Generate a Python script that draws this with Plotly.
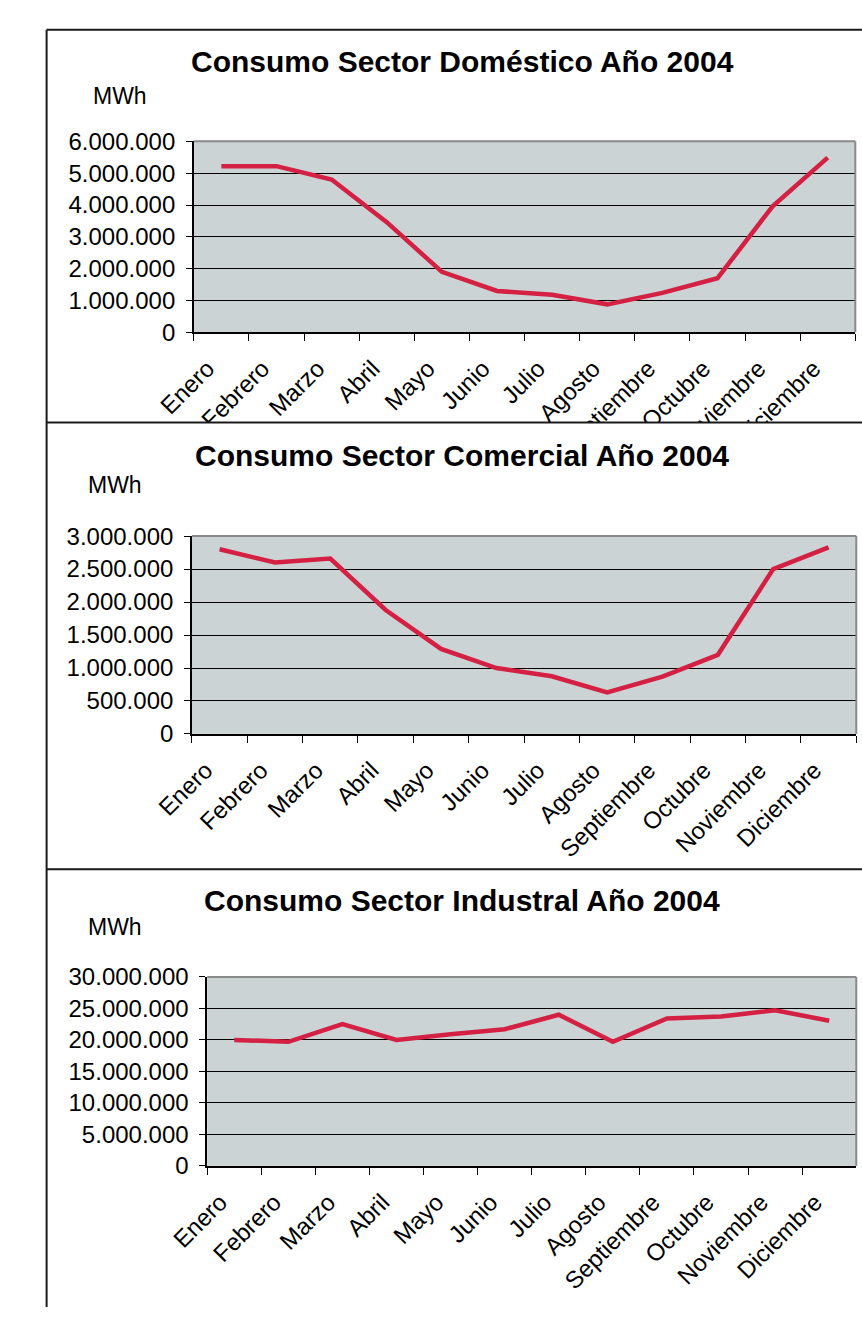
import plotly.graph_objects as go

# ---------------- data ----------------
meses = ["Enero", "Febrero", "Marzo", "Abril", "Mayo", "Junio", "Julio",
         "Agosto", "Septiembre", "Octubre", "Noviembre", "Diciembre"]
domestico = [5220000, 5220000, 4800000, 3460000, 1900000, 1300000,
             1180000, 880000, 1240000, 1700000, 3960000, 5490000]
comercial = [2800000, 2600000, 2660000, 1880000, 1290000, 1000000,
             875000, 630000, 870000, 1200000, 2500000, 2830000]
industrial = [20000000, 19700000, 22500000, 20000000, 20900000, 21700000,
              24000000, 19700000, 23400000, 23700000, 24700000, 23050000]
titulos = ["Consumo Sector Doméstico Año 2004",
           "Consumo Sector Comercial Año 2004",
           "Consumo Sector Industral Año 2004"]
unidad = "MWh"
y_max = [6000000, 3000000, 30000000]
y_paso = [1000000, 500000, 5000000]
series = [domestico, comercial, industrial]

# ---------------- layout geometry (pixels) ----------------
W, H = 862, 1320
FONT = "Arial, 'Liberation Sans', Helvetica, sans-serif"
LINE_COLOR = "#D42042"
BG = "#CBD3D5"

paneles = [
    dict(x0=163, x1=855, y0=130, y1=325, ty=48, mx=86, my=84),
    dict(x0=161, x1=856, y0=533, y1=735, ty=451, mx=81, my=481),
    dict(x0=177, x1=856, y0=983, y1=1176, ty=905, mx=81, my=932),
]


def px(x):
    return x / W


def py(y):
    return 1 - y / H


fig = go.Figure()
shapes = []
annotations = []

for i, (p, vals) in enumerate(zip(paneles, series)):
    n = "" if i == 0 else str(i + 1)
    xa, ya = "x" + n, "y" + n
    fig.add_trace(go.Scatter(
        x=meses, y=vals, mode="lines", xaxis=xa, yaxis=ya,
        line=dict(color=LINE_COLOR, width=4.5), showlegend=False,
        hoverinfo="skip"))
    fig.layout["xaxis" + n] = dict(
        domain=[px(p["x0"]), px(p["x1"])], anchor=ya,
        type="category", range=[-0.5, 11.5], tickson="boundaries",
        ticks="outside", ticklen=7, tickwidth=1, tickcolor="black",
        showline=True, linecolor="black", linewidth=1.5,
        showgrid=False, tickangle=-45, ticklabelstandoff=11,
        ticklabelshift=-14,
        tickfont=dict(family=FONT, size=24, color="black"), fixedrange=True)
    fig.layout["yaxis" + n] = dict(
        domain=[py(p["y1"]), py(p["y0"])], anchor=xa,
        range=[0, y_max[i]], dtick=y_paso[i], tick0=0, tickformat=",d",
        ticks="outside", ticklen=6, tickwidth=1, tickcolor="black",
        showline=True, linecolor="black", linewidth=1.5,
        showgrid=True, gridcolor="black", gridwidth=1, zeroline=False,
        ticklabelstandoff=6,
        tickfont=dict(family=FONT, size=24, color="black"), fixedrange=True)
    # grey plot-area border (top and right)
    shapes.append(dict(type="line", xref=xa + " domain", yref=ya + " domain",
                       x0=0, x1=1, y0=1, y1=1, layer="above",
                       line=dict(color="#8A8A8A", width=2)))
    shapes.append(dict(type="line", xref=xa + " domain", yref=ya + " domain",
                       x0=1, x1=1, y0=0, y1=1, layer="above",
                       line=dict(color="#8A8A8A", width=2)))
    annotations.append(dict(text="<b>" + titulos[i] + "</b>", xref="paper",
                            yref="paper", x=px(444), y=py(p["ty"]),
                            xanchor="center", yanchor="middle",
                            showarrow=False,
                            font=dict(family=FONT, size=30, color="black")))
    annotations.append(dict(text=unidad, xref="paper", yref="paper",
                            x=px(p["mx"]), y=py(p["my"]),
                            xanchor="center", yanchor="middle",
                            showarrow=False,
                            font=dict(family=FONT, size=23, color="black")))

# white cover clipping the first chart's labels at the separator
shapes.append(dict(type="rect", xref="paper", yref="paper",
                   x0=px(10), x1=1, y0=py(520), y1=py(417), layer="above",
                   fillcolor="white", line=dict(width=0)))
# outer frame and separators
frame = "#1A1A1A"
for (xa0, ya0, xa1, ya1) in [(9, 16, 862, 16), (9, 16, 9, 1320),
                             (9, 417, 862, 417), (9, 873, 862, 873)]:
    shapes.append(dict(type="line", xref="paper", yref="paper",
                       x0=px(xa0), x1=px(xa1), y0=py(ya0), y1=py(ya1),
                       layer="above", line=dict(color=frame, width=2)))

fig.update_layout(
    width=W, height=H, margin=dict(l=0, r=0, t=0, b=0),
    paper_bgcolor="white", plot_bgcolor=BG, separators=",.",
    font=dict(family=FONT, color="black"),
    shapes=shapes, annotations=annotations)

fig.write_html(
    "out.html", config={"displayModeBar": False},
    post_script=("document.body.style.margin='0';"
                 "document.body.style.overflow='hidden';"
                 "document.documentElement.style.overflow='hidden';"))
